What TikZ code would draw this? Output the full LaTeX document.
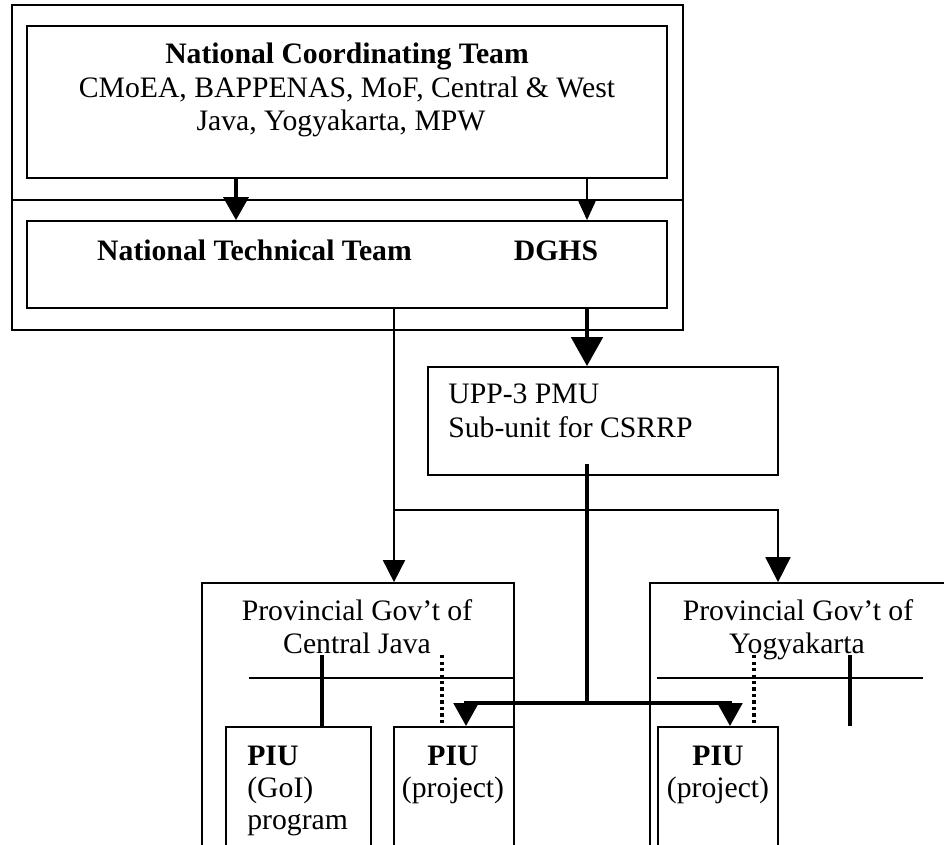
\documentclass[tikz,border=0pt]{standalone}
\usepackage{fontspec}
\setmainfont{Liberation Serif}
\usetikzlibrary{arrows.meta}
\begin{document}
\begin{tikzpicture}[x=0.02cm,y=-0.02cm,font=\fontsize{16.9}{19}\selectfont,
  box/.style={draw,line width=1pt,inner sep=0pt},
  lbl/.style={inner sep=0pt,anchor=base},
  link/.style={line width=1pt},
  midlink/.style={line width=2pt},
  tick/.style={line width=1.9pt},
  heavylink/.style={line width=2.8pt},
  dotlink/.style={line width=2pt,dash pattern=on 0.065cm off 0.065cm}]
\useasboundingbox (0,0) rectangle (944,845);
\clip (0,0) rectangle (944,845);

%national level
\node[box,minimum width=13.42cm,minimum height=6.5cm] (outer) at (347.5,167.5) {};
\node[box,minimum width=12.8cm,minimum height=3.04cm] (nct) at (347,102) {};
\node[box,minimum width=12.8cm,minimum height=1.74cm] (ntt) at (347,264.5) {};
\coordinate (ym) at (0,200);
\draw[box] (outer.west |- ym) -- (outer.east |- ym); %split
\node[lbl] (nct1) at (347,63) {\textbf{National Coordinating Team}};
\node[lbl] (nct2) at (347,97) {CMoEA, BAPPENAS, MoF, Central \& West};
\node[lbl] (nct3) at (341,130) {Java, Yogyakarta, MPW};
\node[lbl] (ntt1) at (254.5,260) {\textbf{National Technical Team}};
\node[lbl] (dghs) at (556,260) {\textbf{DGHS}};

%pmu
\node[box,minimum width=7cm,minimum height=2.16cm] (upp) at (603,421) {};
\node[lbl,anchor=base west] (upp1) at (448,403) {UPP-3 PMU};
\node[lbl,anchor=base west] (upp2) at (448,437) {Sub-unit for CSRRP};

%provinces
\node[box,minimum width=6.24cm,minimum height=6.34cm] (provl) at (358,741.5) {};
\node[box,minimum width=5.92cm,minimum height=6.34cm] (provr) at (798,741.5) {};
\node[lbl] (provl1) at (357,620) {Provincial Gov’t of};
\node[lbl] (provl2) at (357,653) {Central Java};
\node[lbl] (provr1) at (798,620) {Provincial Gov’t of};
\node[lbl] (provr2) at (797,653) {Yogyakarta};

%piu boxes
\node[box,minimum width=2.9cm,minimum height=3.46cm] (piug) at (298.5,813.5) {};
\node[box,minimum width=2.4cm,minimum height=3.46cm] (piul) at (454,813.5) {};
\node[box,minimum width=2.4cm,minimum height=3.46cm] (piur) at (718,813.5) {};
\node[lbl,anchor=base west] (piug1) at (247,765) {\textbf{PIU}};
\node[lbl,anchor=base west] (piug2) at (247,797) {(GoI)};
\node[lbl,anchor=base west] (piug3) at (247,829) {program};
\node[lbl] (piul1) at (453,765) {\textbf{PIU}};
\node[lbl] (piul2) at (453,797) {(project)};
\node[lbl] (piur1) at (718,765) {\textbf{PIU}};
\node[lbl] (piur2) at (718,797) {(project)};

%connectors
\coordinate (xa) at (236,0);
\coordinate (xb) at (587,0);
\coordinate (xc) at (394,0);
\coordinate (xd) at (778,0);
\coordinate (xe) at (466,0);
\coordinate (xf) at (730,0);
\coordinate (ya) at (0,510);
\coordinate (yb) at (0,703);
\draw[midlink,-{Triangle[width=0.5cm,length=0.46cm]}] (nct.south -| xa) -- (ntt.north -| xa);
\draw[link,-{Triangle[width=0.34cm,length=0.38cm]}] (nct.south -| xb) -- (ntt.north -| xb);
\draw[heavylink,-{Triangle[width=0.62cm,length=0.58cm]}] (ntt.south -| xb) -- (upp.north -| xb);
\draw[link,-{Triangle[width=0.44cm,length=0.44cm]}] (ntt.south -| xc) -- (provl.north -| xc);
\draw[link,-{Triangle[width=0.5cm,length=0.5cm]}] (ya -| xc) -| (provr.north -| xd);
\draw[heavylink] ([yshift=0.24cm]upp.south -| xb) -- (yb -| xb); %trunk
\draw[heavylink,-{Triangle[width=0.48cm,length=0.46cm]}] (yb -| xb) -| (piul.north -| xe);
\draw[heavylink,-{Triangle[width=0.48cm,length=0.46cm]}] (yb -| xb) -| (piur.north -| xf);

%inside provinces
\coordinate (yc) at (0,678);
\draw[link] (249,678) -- (provl.east |- yc);
\draw[link] (657,678) -- (923,678);
\draw[tick] (322,655) -- (piug.north -| 322,0);
\draw[dotlink] (442,655) -- (piul.north -| 442,0);
\draw[dotlink] (754,655) -- (piur.north -| 754,0);
\draw[tick] (850,655) -- (850,726);
\end{tikzpicture}
\end{document}
